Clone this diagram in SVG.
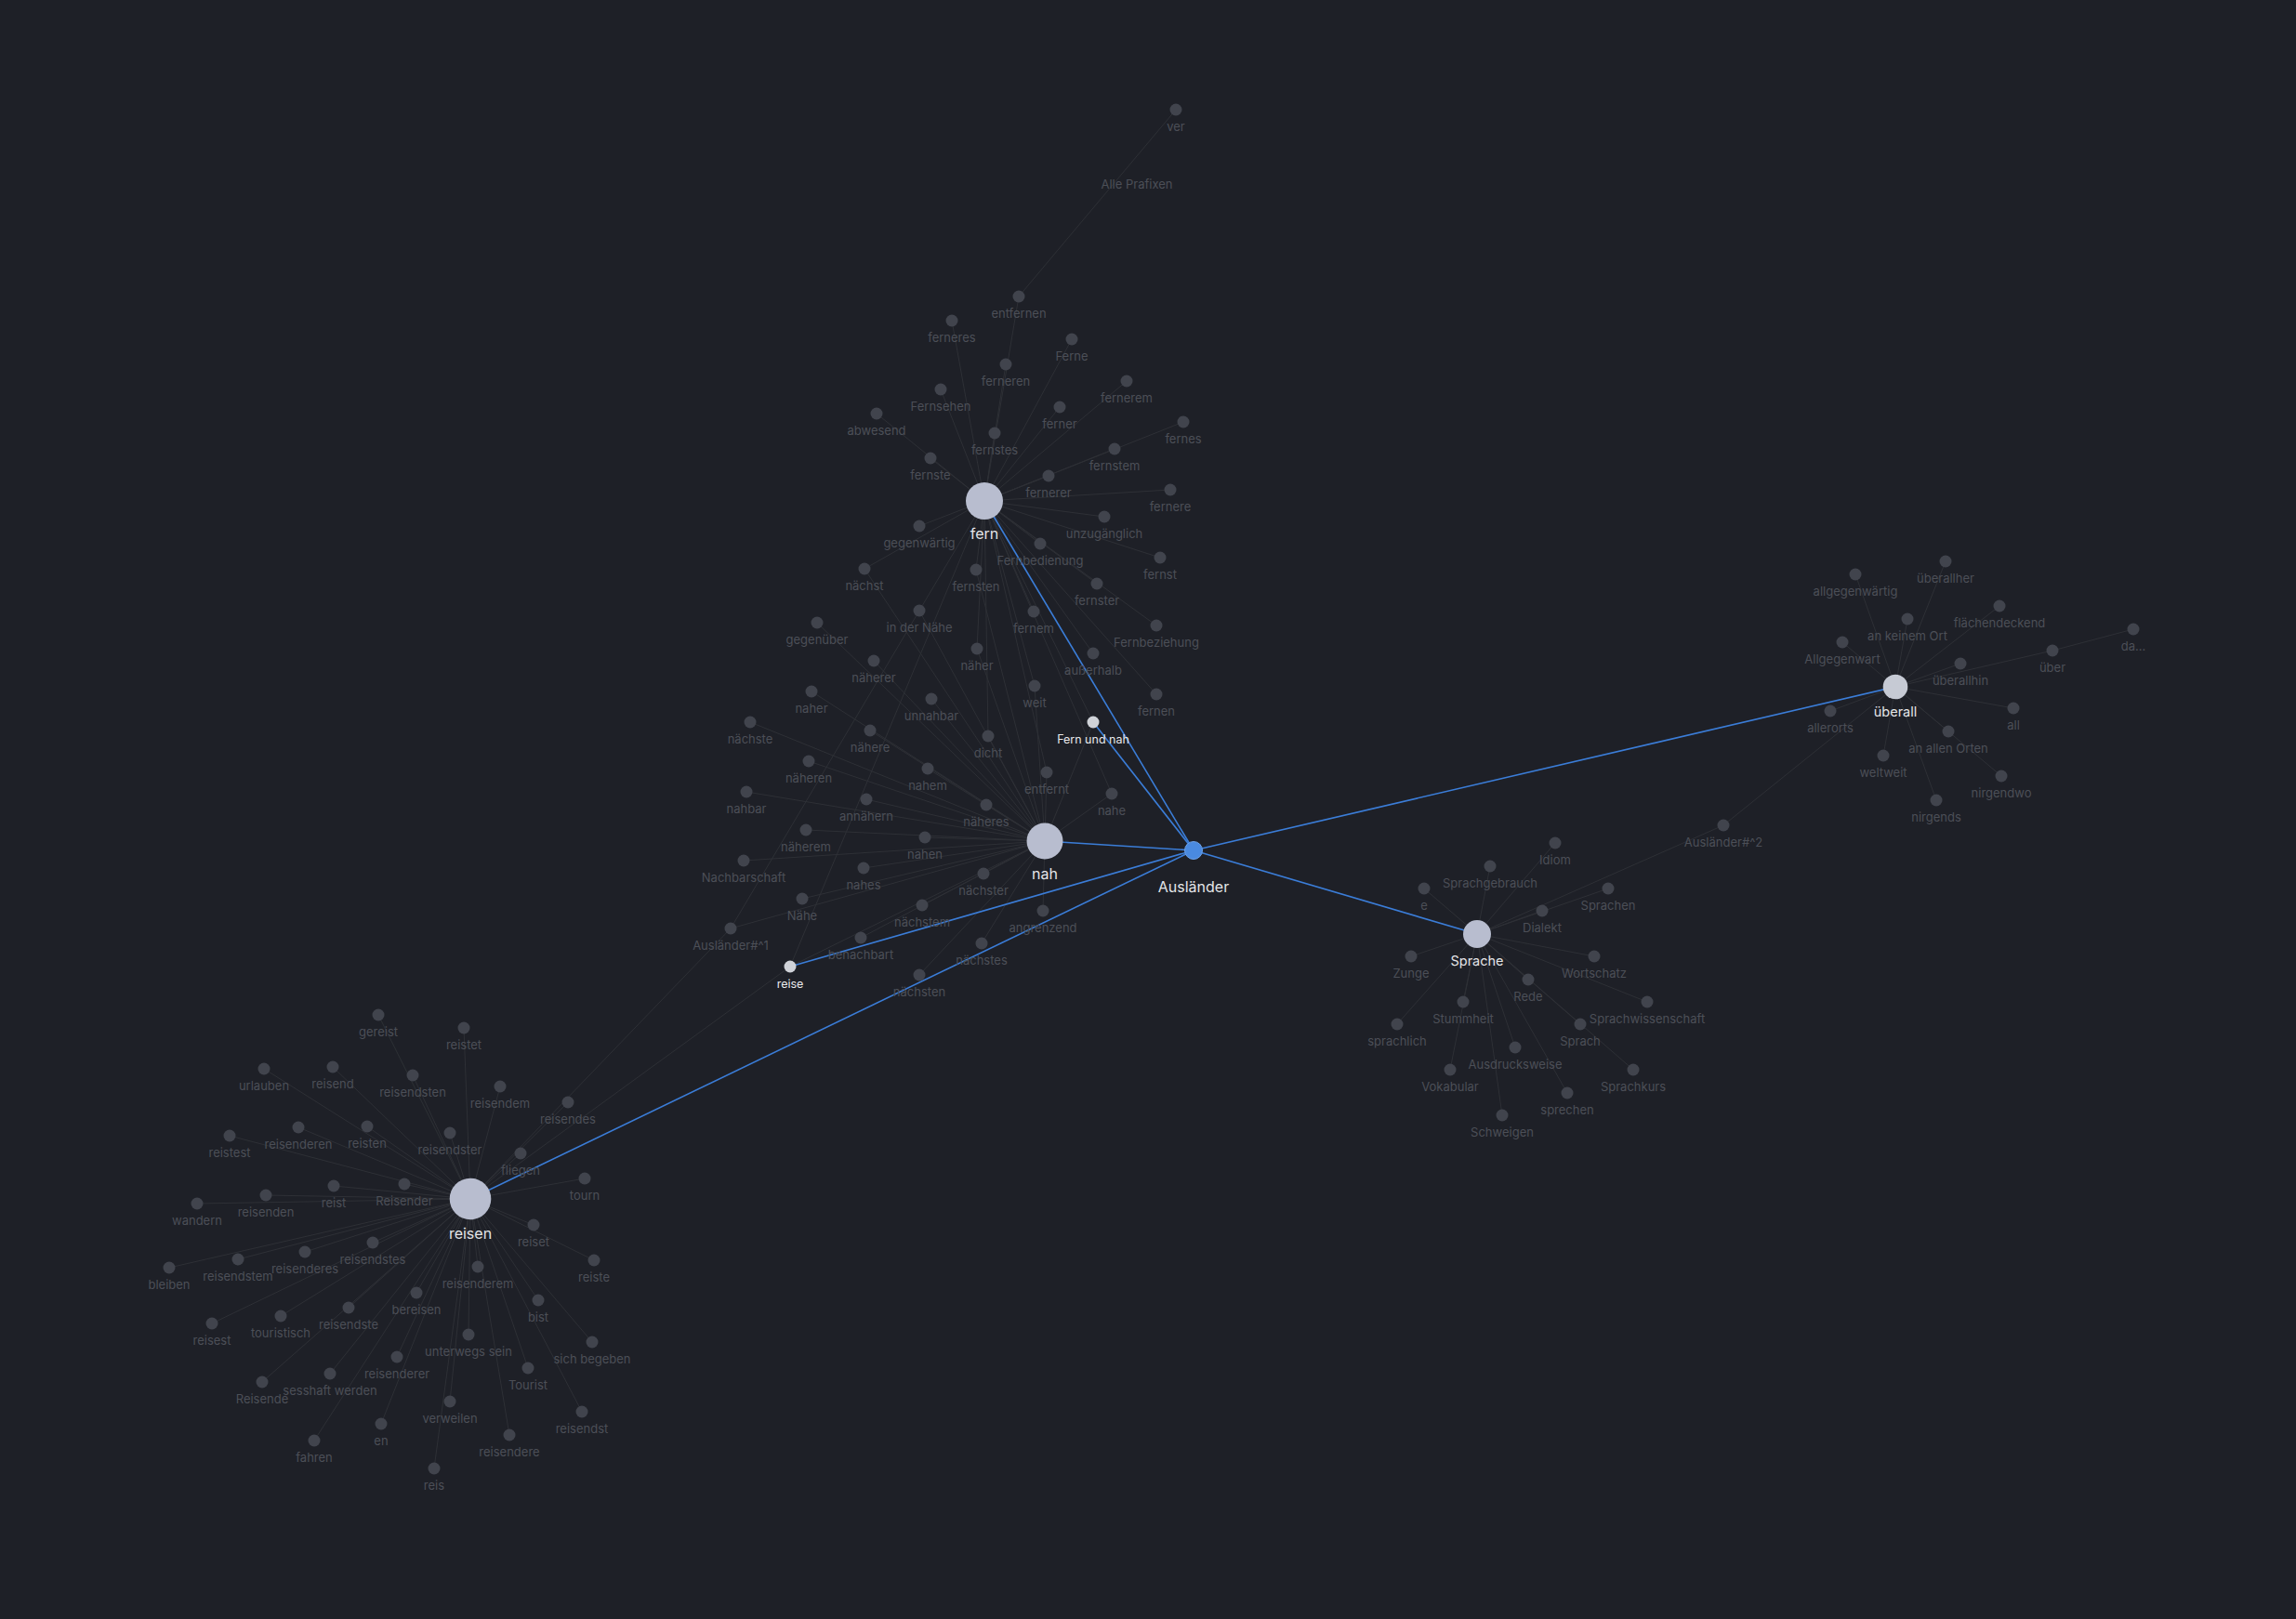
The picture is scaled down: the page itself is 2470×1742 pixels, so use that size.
<svg xmlns="http://www.w3.org/2000/svg" width="2470" height="1742" viewBox="0 0 2470 1742">
<style>
.bg{fill:#1e2027}
.e line{stroke:#2e3036;stroke-width:1}
.b line{stroke:#3b7dd8;stroke-width:1.6}
.leaf{fill:#41444d}
.hub{fill:#b8bdcf}
.hub2{fill:#c6cad4}
.sm{fill:#cfd2d8}
.blue{fill:#4a8ae0;stroke:#6ea2e8;stroke-width:1}
text{font-family:Inter,"Liberation Sans",sans-serif;text-anchor:middle}
.lt{font-size:13px;fill:#4c4f57}
.ht{font-size:16px;fill:#e4e5e8}
.ht2{font-size:14.5px;fill:#e4e5e8}
.st{font-size:12.5px;fill:#e8e9ec}
</style>
<rect class="bg" x="0" y="0" width="2470" height="1742"/>
<g id="connectors">
<g class="e">
<line x1="1059" y1="539" x2="1096" y2="319"/><line x1="1059" y1="539" x2="1024" y2="345"/><line x1="1059" y1="539" x2="1153" y2="365"/><line x1="1059" y1="539" x2="1082" y2="392"/><line x1="1059" y1="539" x2="1212" y2="410"/><line x1="1059" y1="539" x2="1012" y2="419"/><line x1="1059" y1="539" x2="1140" y2="438"/><line x1="1059" y1="539" x2="943" y2="445"/><line x1="1059" y1="539" x2="1273" y2="454"/><line x1="1059" y1="539" x2="1070" y2="466"/><line x1="1059" y1="539" x2="1199" y2="483"/><line x1="1059" y1="539" x2="1001" y2="493"/><line x1="1059" y1="539" x2="1128" y2="512"/><line x1="1059" y1="539" x2="1259" y2="527"/><line x1="1059" y1="539" x2="1188" y2="556"/><line x1="1059" y1="539" x2="989" y2="566"/><line x1="1059" y1="539" x2="1119" y2="585"/><line x1="1059" y1="539" x2="1248" y2="600"/><line x1="1059" y1="539" x2="930" y2="612"/><line x1="1059" y1="539" x2="1050" y2="613"/><line x1="1059" y1="539" x2="1180" y2="628"/><line x1="1059" y1="539" x2="989" y2="657"/><line x1="1059" y1="539" x2="1112" y2="658"/><line x1="1059" y1="539" x2="1244" y2="673"/><line x1="1059" y1="539" x2="1051" y2="698"/><line x1="1059" y1="539" x2="1176" y2="703"/><line x1="1059" y1="539" x2="1113" y2="738"/><line x1="1059" y1="539" x2="1244" y2="747"/><line x1="1059" y1="539" x2="1063" y2="792"/><line x1="1059" y1="539" x2="1126" y2="831"/><line x1="1059" y1="539" x2="1196" y2="854"/><line x1="1059" y1="539" x2="1176" y2="777"/><line x1="1059" y1="539" x2="850" y2="1040"/>
<line x1="1124" y1="905" x2="879" y2="670"/><line x1="1124" y1="905" x2="940" y2="711"/><line x1="1124" y1="905" x2="873" y2="744"/><line x1="1124" y1="905" x2="1002" y2="752"/><line x1="1124" y1="905" x2="807" y2="777"/><line x1="1124" y1="905" x2="936" y2="786"/><line x1="1124" y1="905" x2="1063" y2="792"/><line x1="1124" y1="905" x2="870" y2="819"/><line x1="1124" y1="905" x2="998" y2="827"/><line x1="1124" y1="905" x2="803" y2="852"/><line x1="1124" y1="905" x2="932" y2="860"/><line x1="1124" y1="905" x2="1061" y2="866"/><line x1="1124" y1="905" x2="867" y2="893"/><line x1="1124" y1="905" x2="995" y2="901"/><line x1="1124" y1="905" x2="800" y2="926"/><line x1="1124" y1="905" x2="929" y2="934"/><line x1="1124" y1="905" x2="1058" y2="940"/><line x1="1124" y1="905" x2="863" y2="967"/><line x1="1124" y1="905" x2="992" y2="974"/><line x1="1124" y1="905" x2="1122" y2="980"/><line x1="1124" y1="905" x2="786" y2="999"/><line x1="1124" y1="905" x2="926" y2="1009"/><line x1="1124" y1="905" x2="1056" y2="1015"/><line x1="1124" y1="905" x2="989" y2="1049"/><line x1="1124" y1="905" x2="1196" y2="854"/><line x1="1124" y1="905" x2="1126" y2="831"/><line x1="1124" y1="905" x2="1113" y2="738"/><line x1="1124" y1="905" x2="1051" y2="698"/><line x1="1124" y1="905" x2="1176" y2="777"/><line x1="1124" y1="905" x2="930" y2="612"/><line x1="1124" y1="905" x2="989" y2="657"/><line x1="1124" y1="905" x2="850" y2="1040"/><line x1="1124" y1="905" x2="1050" y2="613"/>
<line x1="786" y1="999" x2="989" y2="657"/><line x1="786" y1="999" x2="506" y2="1290"/><line x1="850" y1="1040" x2="506" y2="1290"/><line x1="1265" y1="118" x2="1096" y2="319"/>
<line x1="506" y1="1290" x2="407" y2="1092"/><line x1="506" y1="1290" x2="499" y2="1106"/><line x1="506" y1="1290" x2="284" y2="1150"/><line x1="506" y1="1290" x2="358" y2="1148"/><line x1="506" y1="1290" x2="444" y2="1157"/><line x1="506" y1="1290" x2="538" y2="1169"/><line x1="506" y1="1290" x2="611" y2="1186"/><line x1="506" y1="1290" x2="321" y2="1213"/><line x1="506" y1="1290" x2="395" y2="1212"/><line x1="506" y1="1290" x2="484" y2="1219"/><line x1="506" y1="1290" x2="247" y2="1222"/><line x1="506" y1="1290" x2="560" y2="1241"/><line x1="506" y1="1290" x2="629" y2="1268"/><line x1="506" y1="1290" x2="435" y2="1274"/><line x1="506" y1="1290" x2="359" y2="1276"/><line x1="506" y1="1290" x2="286" y2="1286"/><line x1="506" y1="1290" x2="212" y2="1295"/><line x1="506" y1="1290" x2="574" y2="1318"/><line x1="506" y1="1290" x2="401" y2="1337"/><line x1="506" y1="1290" x2="328" y2="1347"/><line x1="506" y1="1290" x2="256" y2="1355"/><line x1="506" y1="1290" x2="639" y2="1356"/><line x1="506" y1="1290" x2="514" y2="1363"/><line x1="506" y1="1290" x2="182" y2="1364"/><line x1="506" y1="1290" x2="448" y2="1391"/><line x1="506" y1="1290" x2="579" y2="1399"/><line x1="506" y1="1290" x2="375" y2="1407"/><line x1="506" y1="1290" x2="302" y2="1416"/><line x1="506" y1="1290" x2="228" y2="1424"/><line x1="506" y1="1290" x2="504" y2="1436"/><line x1="506" y1="1290" x2="637" y2="1444"/><line x1="506" y1="1290" x2="427" y2="1460"/><line x1="506" y1="1290" x2="568" y2="1472"/><line x1="506" y1="1290" x2="355" y2="1478"/><line x1="506" y1="1290" x2="282" y2="1487"/><line x1="506" y1="1290" x2="484" y2="1508"/><line x1="506" y1="1290" x2="626" y2="1519"/><line x1="506" y1="1290" x2="410" y2="1532"/><line x1="506" y1="1290" x2="548" y2="1544"/><line x1="506" y1="1290" x2="338" y2="1550"/><line x1="506" y1="1290" x2="467" y2="1580"/>
<line x1="2039" y1="739" x2="2093" y2="604"/><line x1="2039" y1="739" x2="1996" y2="618"/><line x1="2039" y1="739" x2="2151" y2="652"/><line x1="2039" y1="739" x2="2052" y2="666"/><line x1="2039" y1="739" x2="1982" y2="691"/><line x1="2039" y1="739" x2="2208" y2="700"/><line x1="2039" y1="739" x2="2109" y2="714"/><line x1="2039" y1="739" x2="2166" y2="762"/><line x1="2039" y1="739" x2="1969" y2="765"/><line x1="2039" y1="739" x2="2096" y2="787"/><line x1="2039" y1="739" x2="2026" y2="813"/><line x1="2039" y1="739" x2="2153" y2="835"/><line x1="2039" y1="739" x2="2083" y2="861"/><line x1="2039" y1="739" x2="1854" y2="888"/><line x1="2208" y1="700" x2="2295" y2="677"/>
<line x1="1589" y1="1005" x2="1854" y2="888"/><line x1="1589" y1="1005" x2="1673" y2="907"/><line x1="1589" y1="1005" x2="1603" y2="932"/><line x1="1589" y1="1005" x2="1532" y2="956"/><line x1="1589" y1="1005" x2="1730" y2="956"/><line x1="1589" y1="1005" x2="1659" y2="980"/><line x1="1589" y1="1005" x2="1518" y2="1029"/><line x1="1589" y1="1005" x2="1715" y2="1029"/><line x1="1589" y1="1005" x2="1644" y2="1054"/><line x1="1589" y1="1005" x2="1574" y2="1078"/><line x1="1589" y1="1005" x2="1772" y2="1078"/><line x1="1589" y1="1005" x2="1503" y2="1102"/><line x1="1589" y1="1005" x2="1700" y2="1102"/><line x1="1589" y1="1005" x2="1630" y2="1127"/><line x1="1589" y1="1005" x2="1560" y2="1151"/><line x1="1589" y1="1005" x2="1757" y2="1151"/><line x1="1589" y1="1005" x2="1686" y2="1176"/><line x1="1589" y1="1005" x2="1616" y2="1200"/>
</g>
<g class="b">
<line x1="1284" y1="915" x2="1059" y2="539"/><line x1="1284" y1="915" x2="1176" y2="777"/><line x1="1284" y1="915" x2="1124" y2="905"/><line x1="1284" y1="915" x2="850" y2="1040"/><line x1="1284" y1="915" x2="506" y2="1290"/><line x1="1284" y1="915" x2="2039" y2="739"/><line x1="1284" y1="915" x2="1589" y2="1005"/>
</g>
</g>
<text class="lt" x="1223" y="203">Alle Prafixen</text>
<g id="n-ver"><circle class="leaf" cx="1265" cy="118" r="6.5"/><text class="lt" x="1265" y="141">ver</text></g>
<g id="n-entfernen"><circle class="leaf" cx="1096" cy="319" r="6.5"/><text class="lt" x="1096" y="342">entfernen</text></g>
<g id="n-ferneres"><circle class="leaf" cx="1024" cy="345" r="6.5"/><text class="lt" x="1024" y="368">ferneres</text></g>
<g id="n-Ferne"><circle class="leaf" cx="1153" cy="365" r="6.5"/><text class="lt" x="1153" y="388">Ferne</text></g>
<g id="n-ferneren"><circle class="leaf" cx="1082" cy="392" r="6.5"/><text class="lt" x="1082" y="415">ferneren</text></g>
<g id="n-fernerem"><circle class="leaf" cx="1212" cy="410" r="6.5"/><text class="lt" x="1212" y="433">fernerem</text></g>
<g id="n-Fernsehen"><circle class="leaf" cx="1012" cy="419" r="6.5"/><text class="lt" x="1012" y="442">Fernsehen</text></g>
<g id="n-ferner"><circle class="leaf" cx="1140" cy="438" r="6.5"/><text class="lt" x="1140" y="461">ferner</text></g>
<g id="n-abwesend"><circle class="leaf" cx="943" cy="445" r="6.5"/><text class="lt" x="943" y="468">abwesend</text></g>
<g id="n-fernes"><circle class="leaf" cx="1273" cy="454" r="6.5"/><text class="lt" x="1273" y="477">fernes</text></g>
<g id="n-fernstes"><circle class="leaf" cx="1070" cy="466" r="6.5"/><text class="lt" x="1070" y="489">fernstes</text></g>
<g id="n-fernstem"><circle class="leaf" cx="1199" cy="483" r="6.5"/><text class="lt" x="1199" y="506">fernstem</text></g>
<g id="n-fernste"><circle class="leaf" cx="1001" cy="493" r="6.5"/><text class="lt" x="1001" y="516">fernste</text></g>
<g id="n-fernerer"><circle class="leaf" cx="1128" cy="512" r="6.5"/><text class="lt" x="1128" y="535">fernerer</text></g>
<g id="n-fernere"><circle class="leaf" cx="1259" cy="527" r="6.5"/><text class="lt" x="1259" y="550">fernere</text></g>
<g id="n-unzugaenglich"><circle class="leaf" cx="1188" cy="556" r="6.5"/><text class="lt" x="1188" y="579">unzugänglich</text></g>
<g id="n-gegenwaertig"><circle class="leaf" cx="989" cy="566" r="6.5"/><text class="lt" x="989" y="589">gegenwärtig</text></g>
<g id="n-Fernbedienung"><circle class="leaf" cx="1119" cy="585" r="6.5"/><text class="lt" x="1119" y="608">Fernbedienung</text></g>
<g id="n-fernst"><circle class="leaf" cx="1248" cy="600" r="6.5"/><text class="lt" x="1248" y="623">fernst</text></g>
<g id="n-naechst"><circle class="leaf" cx="930" cy="612" r="6.5"/><text class="lt" x="930" y="635">nächst</text></g>
<g id="n-fernsten"><circle class="leaf" cx="1050" cy="613" r="6.5"/><text class="lt" x="1050" y="636">fernsten</text></g>
<g id="n-fernster"><circle class="leaf" cx="1180" cy="628" r="6.5"/><text class="lt" x="1180" y="651">fernster</text></g>
<g id="n-inderNaehe"><circle class="leaf" cx="989" cy="657" r="6.5"/><text class="lt" x="989" y="680">in der Nähe</text></g>
<g id="n-fernem"><circle class="leaf" cx="1112" cy="658" r="6.5"/><text class="lt" x="1112" y="681">fernem</text></g>
<g id="n-Fernbeziehung"><circle class="leaf" cx="1244" cy="673" r="6.5"/><text class="lt" x="1244" y="696">Fernbeziehung</text></g>
<g id="n-gegenueber"><circle class="leaf" cx="879" cy="670" r="6.5"/><text class="lt" x="879" y="693">gegenüber</text></g>
<g id="n-naeher"><circle class="leaf" cx="1051" cy="698" r="6.5"/><text class="lt" x="1051" y="721">näher</text></g>
<g id="n-ausserhalb"><circle class="leaf" cx="1176" cy="703" r="6.5"/><text class="lt" x="1176" y="726">außerhalb</text></g>
<g id="n-naeherer"><circle class="leaf" cx="940" cy="711" r="6.5"/><text class="lt" x="940" y="734">näherer</text></g>
<g id="n-weit"><circle class="leaf" cx="1113" cy="738" r="6.5"/><text class="lt" x="1113" y="761">weit</text></g>
<g id="n-naher"><circle class="leaf" cx="873" cy="744" r="6.5"/><text class="lt" x="873" y="767">naher</text></g>
<g id="n-fernen"><circle class="leaf" cx="1244" cy="747" r="6.5"/><text class="lt" x="1244" y="770">fernen</text></g>
<g id="n-unnahbar"><circle class="leaf" cx="1002" cy="752" r="6.5"/><text class="lt" x="1002" y="775">unnahbar</text></g>
<g id="n-naechste"><circle class="leaf" cx="807" cy="777" r="6.5"/><text class="lt" x="807" y="800">nächste</text></g>
<g id="n-naehere"><circle class="leaf" cx="936" cy="786" r="6.5"/><text class="lt" x="936" y="809">nähere</text></g>
<g id="n-dicht"><circle class="leaf" cx="1063" cy="792" r="6.5"/><text class="lt" x="1063" y="815">dicht</text></g>
<g id="n-naeheren"><circle class="leaf" cx="870" cy="819" r="6.5"/><text class="lt" x="870" y="842">näheren</text></g>
<g id="n-nahem"><circle class="leaf" cx="998" cy="827" r="6.5"/><text class="lt" x="998" y="850">nahem</text></g>
<g id="n-entfernt"><circle class="leaf" cx="1126" cy="831" r="6.5"/><text class="lt" x="1126" y="854">entfernt</text></g>
<g id="n-nahbar"><circle class="leaf" cx="803" cy="852" r="6.5"/><text class="lt" x="803" y="875">nahbar</text></g>
<g id="n-nahe"><circle class="leaf" cx="1196" cy="854" r="6.5"/><text class="lt" x="1196" y="877">nahe</text></g>
<g id="n-annaehern"><circle class="leaf" cx="932" cy="860" r="6.5"/><text class="lt" x="932" y="883">annähern</text></g>
<g id="n-naeheres"><circle class="leaf" cx="1061" cy="866" r="6.5"/><text class="lt" x="1061" y="889">näheres</text></g>
<g id="n-naeherem"><circle class="leaf" cx="867" cy="893" r="6.5"/><text class="lt" x="867" y="916">näherem</text></g>
<g id="n-nahen"><circle class="leaf" cx="995" cy="901" r="6.5"/><text class="lt" x="995" y="924">nahen</text></g>
<g id="n-Nachbarschaft"><circle class="leaf" cx="800" cy="926" r="6.5"/><text class="lt" x="800" y="949">Nachbarschaft</text></g>
<g id="n-nahes"><circle class="leaf" cx="929" cy="934" r="6.5"/><text class="lt" x="929" y="957">nahes</text></g>
<g id="n-naechster"><circle class="leaf" cx="1058" cy="940" r="6.5"/><text class="lt" x="1058" y="963">nächster</text></g>
<g id="n-Naehe"><circle class="leaf" cx="863" cy="967" r="6.5"/><text class="lt" x="863" y="990">Nähe</text></g>
<g id="n-naechstem"><circle class="leaf" cx="992" cy="974" r="6.5"/><text class="lt" x="992" y="997">nächstem</text></g>
<g id="n-angrenzend"><circle class="leaf" cx="1122" cy="980" r="6.5"/><text class="lt" x="1122" y="1003">angrenzend</text></g>
<g id="n-Auslaender1"><circle class="leaf" cx="786" cy="999" r="6.5"/><text class="lt" x="786" y="1022">Ausländer#^1</text></g>
<g id="n-benachbart"><circle class="leaf" cx="926" cy="1009" r="6.5"/><text class="lt" x="926" y="1032">benachbart</text></g>
<g id="n-naechstes"><circle class="leaf" cx="1056" cy="1015" r="6.5"/><text class="lt" x="1056" y="1038">nächstes</text></g>
<g id="n-naechsten"><circle class="leaf" cx="989" cy="1049" r="6.5"/><text class="lt" x="989" y="1072">nächsten</text></g>
<g id="n-gereist"><circle class="leaf" cx="407" cy="1092" r="6.5"/><text class="lt" x="407" y="1115">gereist</text></g>
<g id="n-reistet"><circle class="leaf" cx="499" cy="1106" r="6.5"/><text class="lt" x="499" y="1129">reistet</text></g>
<g id="n-urlauben"><circle class="leaf" cx="284" cy="1150" r="6.5"/><text class="lt" x="284" y="1173">urlauben</text></g>
<g id="n-reisend"><circle class="leaf" cx="358" cy="1148" r="6.5"/><text class="lt" x="358" y="1171">reisend</text></g>
<g id="n-reisendsten"><circle class="leaf" cx="444" cy="1157" r="6.5"/><text class="lt" x="444" y="1180">reisendsten</text></g>
<g id="n-reisendem"><circle class="leaf" cx="538" cy="1169" r="6.5"/><text class="lt" x="538" y="1192">reisendem</text></g>
<g id="n-reisendes"><circle class="leaf" cx="611" cy="1186" r="6.5"/><text class="lt" x="611" y="1209">reisendes</text></g>
<g id="n-reisenderen"><circle class="leaf" cx="321" cy="1213" r="6.5"/><text class="lt" x="321" y="1236">reisenderen</text></g>
<g id="n-reisten"><circle class="leaf" cx="395" cy="1212" r="6.5"/><text class="lt" x="395" y="1235">reisten</text></g>
<g id="n-reisendster"><circle class="leaf" cx="484" cy="1219" r="6.5"/><text class="lt" x="484" y="1242">reisendster</text></g>
<g id="n-reistest"><circle class="leaf" cx="247" cy="1222" r="6.5"/><text class="lt" x="247" y="1245">reistest</text></g>
<g id="n-fliegen"><circle class="leaf" cx="560" cy="1241" r="6.5"/><text class="lt" x="560" y="1264">fliegen</text></g>
<g id="n-tourn"><circle class="leaf" cx="629" cy="1268" r="6.5"/><text class="lt" x="629" y="1291">tourn</text></g>
<g id="n-Reisender"><circle class="leaf" cx="435" cy="1274" r="6.5"/><text class="lt" x="435" y="1297">Reisender</text></g>
<g id="n-reist"><circle class="leaf" cx="359" cy="1276" r="6.5"/><text class="lt" x="359" y="1299">reist</text></g>
<g id="n-reisenden"><circle class="leaf" cx="286" cy="1286" r="6.5"/><text class="lt" x="286" y="1309">reisenden</text></g>
<g id="n-wandern"><circle class="leaf" cx="212" cy="1295" r="6.5"/><text class="lt" x="212" y="1318">wandern</text></g>
<g id="n-reiset"><circle class="leaf" cx="574" cy="1318" r="6.5"/><text class="lt" x="574" y="1341">reiset</text></g>
<g id="n-reisendstes"><circle class="leaf" cx="401" cy="1337" r="6.5"/><text class="lt" x="401" y="1360">reisendstes</text></g>
<g id="n-reisenderes"><circle class="leaf" cx="328" cy="1347" r="6.5"/><text class="lt" x="328" y="1370">reisenderes</text></g>
<g id="n-reisendstem"><circle class="leaf" cx="256" cy="1355" r="6.5"/><text class="lt" x="256" y="1378">reisendstem</text></g>
<g id="n-reiste"><circle class="leaf" cx="639" cy="1356" r="6.5"/><text class="lt" x="639" y="1379">reiste</text></g>
<g id="n-reisenderem"><circle class="leaf" cx="514" cy="1363" r="6.5"/><text class="lt" x="514" y="1386">reisenderem</text></g>
<g id="n-bleiben"><circle class="leaf" cx="182" cy="1364" r="6.5"/><text class="lt" x="182" y="1387">bleiben</text></g>
<g id="n-bereisen"><circle class="leaf" cx="448" cy="1391" r="6.5"/><text class="lt" x="448" y="1414">bereisen</text></g>
<g id="n-bist"><circle class="leaf" cx="579" cy="1399" r="6.5"/><text class="lt" x="579" y="1422">bist</text></g>
<g id="n-reisendste"><circle class="leaf" cx="375" cy="1407" r="6.5"/><text class="lt" x="375" y="1430">reisendste</text></g>
<g id="n-touristisch"><circle class="leaf" cx="302" cy="1416" r="6.5"/><text class="lt" x="302" y="1439">touristisch</text></g>
<g id="n-reisest"><circle class="leaf" cx="228" cy="1424" r="6.5"/><text class="lt" x="228" y="1447">reisest</text></g>
<g id="n-unterwegssein"><circle class="leaf" cx="504" cy="1436" r="6.5"/><text class="lt" x="504" y="1459">unterwegs sein</text></g>
<g id="n-sichbegeben"><circle class="leaf" cx="637" cy="1444" r="6.5"/><text class="lt" x="637" y="1467">sich begeben</text></g>
<g id="n-reisenderer"><circle class="leaf" cx="427" cy="1460" r="6.5"/><text class="lt" x="427" y="1483">reisenderer</text></g>
<g id="n-Tourist"><circle class="leaf" cx="568" cy="1472" r="6.5"/><text class="lt" x="568" y="1495">Tourist</text></g>
<g id="n-sesshaftwerden"><circle class="leaf" cx="355" cy="1478" r="6.5"/><text class="lt" x="355" y="1501">sesshaft werden</text></g>
<g id="n-Reisende"><circle class="leaf" cx="282" cy="1487" r="6.5"/><text class="lt" x="282" y="1510">Reisende</text></g>
<g id="n-verweilen"><circle class="leaf" cx="484" cy="1508" r="6.5"/><text class="lt" x="484" y="1531">verweilen</text></g>
<g id="n-reisendst"><circle class="leaf" cx="626" cy="1519" r="6.5"/><text class="lt" x="626" y="1542">reisendst</text></g>
<g id="n-en"><circle class="leaf" cx="410" cy="1532" r="6.5"/><text class="lt" x="410" y="1555">en</text></g>
<g id="n-reisendere"><circle class="leaf" cx="548" cy="1544" r="6.5"/><text class="lt" x="548" y="1567">reisendere</text></g>
<g id="n-fahren"><circle class="leaf" cx="338" cy="1550" r="6.5"/><text class="lt" x="338" y="1573">fahren</text></g>
<g id="n-reis"><circle class="leaf" cx="467" cy="1580" r="6.5"/><text class="lt" x="467" y="1603">reis</text></g>
<g id="n-ueberallher"><circle class="leaf" cx="2093" cy="604" r="6.5"/><text class="lt" x="2093" y="627">überallher</text></g>
<g id="n-allgegenwaertig"><circle class="leaf" cx="1996" cy="618" r="6.5"/><text class="lt" x="1996" y="641">allgegenwärtig</text></g>
<g id="n-flaechendeckend"><circle class="leaf" cx="2151" cy="652" r="6.5"/><text class="lt" x="2151" y="675">flächendeckend</text></g>
<g id="n-ankeinemOrt"><circle class="leaf" cx="2052" cy="666" r="6.5"/><text class="lt" x="2052" y="689">an keinem Ort</text></g>
<g id="n-da"><circle class="leaf" cx="2295" cy="677" r="6.5"/><text class="lt" x="2295" y="700">da…</text></g>
<g id="n-Allgegenwart"><circle class="leaf" cx="1982" cy="691" r="6.5"/><text class="lt" x="1982" y="714">Allgegenwart</text></g>
<g id="n-ueber"><circle class="leaf" cx="2208" cy="700" r="6.5"/><text class="lt" x="2208" y="723">über</text></g>
<g id="n-ueberallhin"><circle class="leaf" cx="2109" cy="714" r="6.5"/><text class="lt" x="2109" y="737">überallhin</text></g>
<g id="n-all"><circle class="leaf" cx="2166" cy="762" r="6.5"/><text class="lt" x="2166" y="785">all</text></g>
<g id="n-allerorts"><circle class="leaf" cx="1969" cy="765" r="6.5"/><text class="lt" x="1969" y="788">allerorts</text></g>
<g id="n-anallenOrten"><circle class="leaf" cx="2096" cy="787" r="6.5"/><text class="lt" x="2096" y="810">an allen Orten</text></g>
<g id="n-weltweit"><circle class="leaf" cx="2026" cy="813" r="6.5"/><text class="lt" x="2026" y="836">weltweit</text></g>
<g id="n-nirgendwo"><circle class="leaf" cx="2153" cy="835" r="6.5"/><text class="lt" x="2153" y="858">nirgendwo</text></g>
<g id="n-nirgends"><circle class="leaf" cx="2083" cy="861" r="6.5"/><text class="lt" x="2083" y="884">nirgends</text></g>
<g id="n-Auslaender2"><circle class="leaf" cx="1854" cy="888" r="6.5"/><text class="lt" x="1854" y="911">Ausländer#^2</text></g>
<g id="n-Idiom"><circle class="leaf" cx="1673" cy="907" r="6.5"/><text class="lt" x="1673" y="930">Idiom</text></g>
<g id="n-Sprachgebrauch"><circle class="leaf" cx="1603" cy="932" r="6.5"/><text class="lt" x="1603" y="955">Sprachgebrauch</text></g>
<g id="n-e"><circle class="leaf" cx="1532" cy="956" r="6.5"/><text class="lt" x="1532" y="979">e</text></g>
<g id="n-Sprachen"><circle class="leaf" cx="1730" cy="956" r="6.5"/><text class="lt" x="1730" y="979">Sprachen</text></g>
<g id="n-Dialekt"><circle class="leaf" cx="1659" cy="980" r="6.5"/><text class="lt" x="1659" y="1003">Dialekt</text></g>
<g id="n-Zunge"><circle class="leaf" cx="1518" cy="1029" r="6.5"/><text class="lt" x="1518" y="1052">Zunge</text></g>
<g id="n-Wortschatz"><circle class="leaf" cx="1715" cy="1029" r="6.5"/><text class="lt" x="1715" y="1052">Wortschatz</text></g>
<g id="n-Rede"><circle class="leaf" cx="1644" cy="1054" r="6.5"/><text class="lt" x="1644" y="1077">Rede</text></g>
<g id="n-Stummheit"><circle class="leaf" cx="1574" cy="1078" r="6.5"/><text class="lt" x="1574" y="1101">Stummheit</text></g>
<g id="n-Sprachwissenschaft"><circle class="leaf" cx="1772" cy="1078" r="6.5"/><text class="lt" x="1772" y="1101">Sprachwissenschaft</text></g>
<g id="n-sprachlich"><circle class="leaf" cx="1503" cy="1102" r="6.5"/><text class="lt" x="1503" y="1125">sprachlich</text></g>
<g id="n-Sprach"><circle class="leaf" cx="1700" cy="1102" r="6.5"/><text class="lt" x="1700" y="1125">Sprach</text></g>
<g id="n-Ausdrucksweise"><circle class="leaf" cx="1630" cy="1127" r="6.5"/><text class="lt" x="1630" y="1150">Ausdrucksweise</text></g>
<g id="n-Vokabular"><circle class="leaf" cx="1560" cy="1151" r="6.5"/><text class="lt" x="1560" y="1174">Vokabular</text></g>
<g id="n-Sprachkurs"><circle class="leaf" cx="1757" cy="1151" r="6.5"/><text class="lt" x="1757" y="1174">Sprachkurs</text></g>
<g id="n-sprechen"><circle class="leaf" cx="1686" cy="1176" r="6.5"/><text class="lt" x="1686" y="1199">sprechen</text></g>
<g id="n-Schweigen"><circle class="leaf" cx="1616" cy="1200" r="6.5"/><text class="lt" x="1616" y="1223">Schweigen</text></g>
<g id="n-FernUndNah"><circle class="sm" cx="1176" cy="777" r="6.5"/><text class="st" x="1176" y="800">Fern und nah</text></g>
<g id="n-reise"><circle class="sm" cx="850" cy="1040" r="6.5"/><text class="st" x="850" y="1063">reise</text></g>
<g id="n-fern"><circle class="hub" cx="1059" cy="539" r="20"/><text class="ht" x="1059" y="580">fern</text></g>
<g id="n-nah"><circle class="hub" cx="1124" cy="905" r="19.5"/><text class="ht" x="1124" y="945.5">nah</text></g>
<g id="n-reisen"><circle class="hub" cx="506" cy="1290" r="22.3"/><text class="ht" x="506" y="1333">reisen</text></g>
<g id="n-ueberall"><circle class="hub2" cx="2039" cy="739" r="13.3"/><text class="ht2" x="2039" y="771">überall</text></g>
<g id="n-Sprache"><circle class="hub" cx="1589" cy="1005" r="15"/><text class="ht2" x="1589" y="1039">Sprache</text></g>
<g id="n-Auslaender"><circle class="blue" cx="1284" cy="915" r="9.5"/><text class="ht" x="1284" y="960">Ausländer</text></g>
</svg>
